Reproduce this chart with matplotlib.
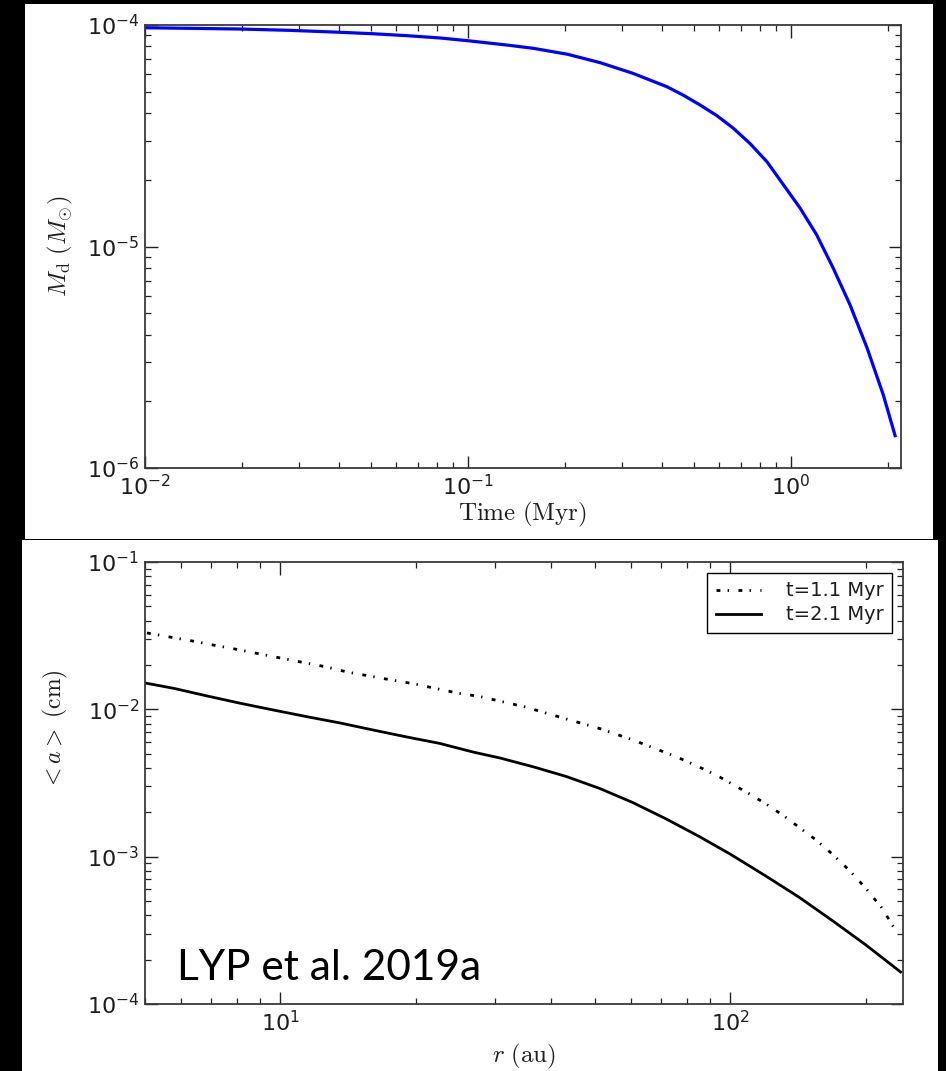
import matplotlib
matplotlib.use("Agg")
import matplotlib.pyplot as plt
from matplotlib.patches import Rectangle
from matplotlib.ticker import LogLocator

# ---- Data: top panel (disk mass vs time) ----
t_myr = [0.01, 0.01377, 0.0197, 0.0281, 0.0402, 0.0509, 0.0647, 0.0818, 0.1,
         0.132, 0.159, 0.203, 0.2565, 0.324, 0.412, 0.463, 0.522, 0.589,
         0.661, 0.746, 0.843, 0.947, 1.067, 1.20, 1.35, 1.523, 1.72, 1.93, 2.10]
m_disk = [9.72e-5, 9.66e-5, 9.59e-5, 9.46e-5, 9.27e-5, 9.13e-5, 8.95e-5,
          8.74e-5, 8.49e-5, 8.12e-5, 7.85e-5, 7.38e-5, 6.76e-5, 6.05e-5,
          5.27e-5, 4.83e-5, 4.36e-5, 3.90e-5, 3.43e-5, 2.92e-5, 2.41e-5,
          1.90e-5, 1.49e-5, 1.13e-5, 8.0e-6, 5.45e-6, 3.48e-6, 2.14e-6, 1.40e-6]

# ---- Data: bottom panel (mean grain size vs radius) ----
r_t11 = [5.05, 6.37, 7.1, 8.01, 10, 12.58, 14.1, 17.7, 19.8, 24.9, 27.8,
         34.9, 43.2, 51.3, 60.7, 75.8, 85.3, 94.6, 110, 120, 130.6, 155, 168,
         183.7, 200, 217, 234]
a_t11 = [0.033, 0.0291, 0.0273, 0.0255, 0.0223, 0.01946, 0.0179, 0.0158,
         0.0149, 0.01285, 0.0122, 0.0104, 0.0086, 0.0074, 0.0062, 0.00477,
         0.00406, 0.00348, 0.00268, 0.00228, 0.00192, 0.00130, 0.00105,
         0.00081, 0.00061, 0.00045, 0.00031]
r_t21 = [5.0, 5.80, 6.89, 8.15, 9.65, 11.46, 13.6, 16.1, 19.1, 22.6, 26.8,
         30.8, 36.5, 43.2, 51.3, 60.7, 72.1, 85.3, 100, 120, 142, 168.6, 200, 239]
a_t21 = [0.0151, 0.01387, 0.0123, 0.01099, 0.00989, 0.00891, 0.00807,
         0.00723, 0.00649, 0.00587, 0.00513, 0.00467, 0.00407, 0.00350,
         0.00290, 0.00233, 0.00180, 0.00137, 0.00104, 0.000738, 0.000532,
         0.000368, 0.000252, 0.000165]
labels = ["t=1.1 Myr", "t=2.1 Myr"]

W, H = 946, 1071
fig = plt.figure(figsize=(W / 100, H / 100), dpi=100, facecolor="black")

def px_rect(x0, y0, x1, y1):
    return Rectangle((x0 / W, 1 - y1 / H), (x1 - x0) / W, (y1 - y0) / H,
                     transform=fig.transFigure, facecolor="white",
                     edgecolor="none", zorder=-10)

fig.patches.append(px_rect(25, 4, 933, 539))
fig.patches.append(px_rect(22, 540, 938, 1071))

def ax_px(x0, y0, x1, y1):
    return fig.add_axes([x0 / W, 1 - y1 / H, (x1 - x0) / W, (y1 - y0) / H],
                        zorder=5)

spine_col = "#3a3a3a"
txt_col = "#1e1e1e"

def style(ax):
    ax.set_xscale("log")
    ax.set_yscale("log")
    for s in ax.spines.values():
        s.set_color(spine_col)
        s.set_linewidth(1.3)
    ax.tick_params(which="both", direction="in", top=True, right=True,
                   colors="#222222", labelsize=16, labelcolor=txt_col)
    ax.tick_params(which="major", length=9, width=1.0, pad=4)
    ax.tick_params(which="minor", length=4.5, width=0.9)
    ax.xaxis.set_minor_locator(LogLocator(base=10, subs=range(2, 10), numticks=20))
    ax.yaxis.set_minor_locator(LogLocator(base=10, subs=range(2, 10), numticks=20))

# Top panel
ax1 = ax_px(145, 25, 901, 468)
style(ax1)
ax1.plot(t_myr, m_disk, color="#0000ff", lw=2.3)
ax1.set_xlim(0.01, 2.19)
ax1.set_ylim(1e-6, 1e-4)
ax1.set_xlabel(r"$\mathrm{Time\ (Myr)}$", fontsize=18, math_fontfamily="cm",
               color=txt_col)
ax1.xaxis.set_label_coords(0.5, -0.072)
ax1.set_ylabel(r"$M_{\rm d}\ (M_{\odot})$", fontsize=18, math_fontfamily="cm",
               color=txt_col)
ax1.yaxis.set_label_coords(-0.093, 0.5)

# Bottom panel
ax2 = ax_px(145, 562, 903, 1004)
style(ax2)
ax2.plot(r_t11, a_t11, color="black", lw=2.0,
         linestyle=(0, (1.4, 2.6, 0.5, 3.4)), label=labels[0])
ax2.plot(r_t21, a_t21, color="black", lw=2.0, label=labels[1])
ax2.set_xlim(5, 242)
ax2.set_ylim(1e-4, 1e-1)
ax2.set_xlabel(r"$r\ (\mathrm{au})$", fontsize=18, math_fontfamily="cm",
               color=txt_col)
ax2.xaxis.set_label_coords(0.5, -0.086)
ax2.set_ylabel(r"$<a>\ (\mathrm{cm})$", fontsize=17, math_fontfamily="cm",
               color=txt_col)
ax2.yaxis.set_label_coords(-0.099, 0.62)
leg = ax2.legend(loc="upper right", fontsize=14, fancybox=False,
                 edgecolor="black", framealpha=1, handlelength=2.3,
                 handletextpad=1.3, borderaxespad=0.55, labelspacing=0.25,
                 borderpad=0.45)
leg.get_frame().set_linewidth(1.0)
for t in leg.get_texts():
    t.set_color(txt_col)

fig.text(177 / W, 1 - 980 / H, "LYP et al. 2019a", fontsize=30.5,
         family="Lato", color="black", va="baseline", ha="left", zorder=10)

fig.savefig("out.png", dpi=100, facecolor="black")
